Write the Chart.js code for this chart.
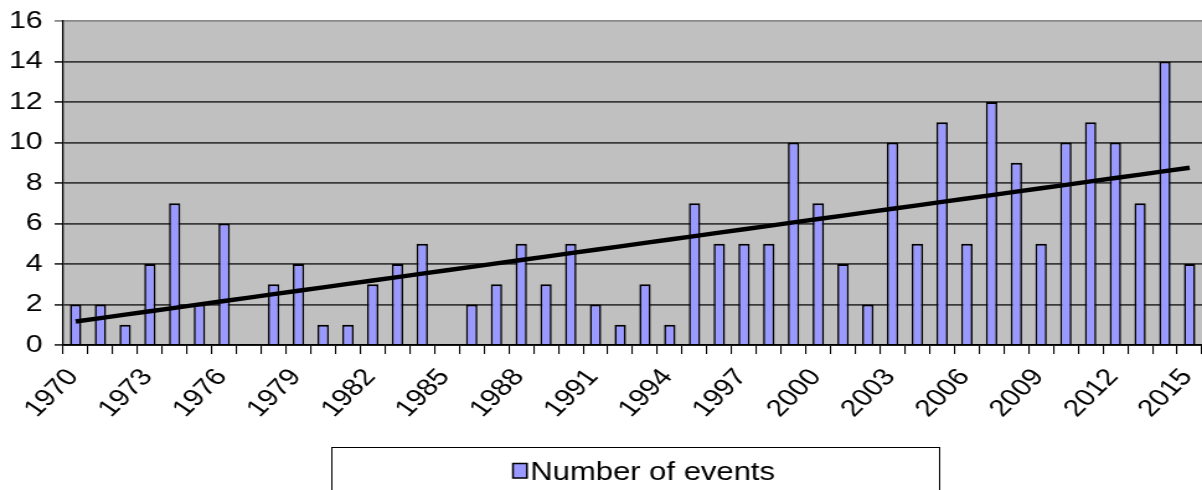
<!DOCTYPE html>
<html>
<head>
<meta charset="utf-8">
<script src="https://cdn.jsdelivr.net/npm/chart.js@4"></script>
<style>
  html, body { margin: 0; padding: 0; background: #ffffff; }
  #chart { display: block; width: 1202px !important; height: 490px !important; }
</style>
</head>
<body>
<canvas id="chart" width="969" height="490" style="width:1202px;height:490px"></canvas>
<script>
// Yearly count of recorded events, 1970-2015
const years = [
  '1970','1971','1972','1973','1974','1975','1976','1977','1978','1979',
  '1980','1981','1982','1983','1984','1985','1986','1987','1988','1989',
  '1990','1991','1992','1993','1994','1995','1996','1997','1998','1999',
  '2000','2001','2002','2003','2004','2005','2006','2007','2008','2009',
  '2010','2011','2012','2013','2014','2015'
];
const events = [
  2, 2, 1, 4, 7, 2, 6, 0, 3, 4,
  1, 1, 3, 4, 5, 0, 2, 3, 5, 3,
  5, 2, 1, 3, 1, 7, 5, 5, 5, 10,
  7, 4, 2, 10, 5, 11, 5, 12, 9, 5,
  10, 11, 10, 7, 14, 4
];
const xTickLabels = ['1970','1973','1976','1979','1982','1985','1988','1991',
  '1994','1997','2000','2003','2006','2009','2012','2015'];
const yTicks = [0, 2, 4, 6, 8, 10, 12, 14, 16];
const seriesName = 'Number of events';

// Linear least-squares trend of the yearly counts
function linearTrend(values) {
  const n = values.length;
  let sx = 0, sy = 0, sxy = 0, sxx = 0;
  values.forEach((v, i) => { sx += i; sy += v; sxy += i * v; sxx += i * i; });
  const slope = (n * sxy - sx * sy) / (n * sxx - sx * sx);
  const icpt = (sy - slope * sx) / n;
  return values.map((_, i) => icpt + slope * i);
}

const FONT = "'Liberation Sans', Arial, sans-serif";
const BAR_FILL = '#9999ff';
const PLOT_BG = '#c0c0c0';

// Grey plot area behind the bars
const plotBackground = {
  id: 'plotBackground',
  beforeDraw(chart) {
    const { ctx, chartArea: a } = chart;
    ctx.save();
    ctx.fillStyle = PLOT_BG;
    ctx.fillRect(a.left, a.top, a.right - a.left, a.bottom - a.top);
    ctx.restore();
  }
};

// Boxed legend under the axis labels
const boxedLegend = {
  id: 'boxedLegend',
  afterDraw(chart) {
    const ctx = chart.ctx;
    const ds = chart.data.datasets[1];
    const boxL = 267.5, boxR = 757.5, boxT = 447.5, boxB = 495;
    ctx.save();
    ctx.fillStyle = '#ffffff';
    ctx.fillRect(boxL, boxT, boxR - boxL, boxB - boxT);
    ctx.strokeStyle = '#000000';
    ctx.lineWidth = 1;
    ctx.strokeRect(boxL, boxT, boxR - boxL, boxB - boxT);

    const keyX = 413.5, keyY = 463.5, keyW = 11.3, keyH = 14.5;
    ctx.fillStyle = ds.backgroundColor;
    ctx.fillRect(keyX, keyY, keyW, keyH);
    ctx.lineWidth = 1.5;
    ctx.strokeStyle = '#000000';
    ctx.strokeRect(keyX, keyY, keyW, keyH);

    ctx.font = '25px ' + FONT;
    ctx.fillStyle = '#000000';
    ctx.textBaseline = 'alphabetic';
    ctx.textAlign = 'left';
    ctx.fillText(ds.label, 427.5, 479.5);
    ctx.restore();
  }
};

new Chart(document.getElementById('chart'), {
  data: {
    labels: years,
    datasets: [
      {
        type: 'line',
        label: 'Linear trend',
        data: linearTrend(events),
        borderColor: '#000000',
        borderWidth: 4.4,
        pointRadius: 0,
        tension: 0,
        order: 0
      },
      {
        type: 'bar',
        label: seriesName,
        data: events,
        backgroundColor: BAR_FILL,
        borderColor: '#000000',
        borderWidth: { top: 2, left: 1.6, right: 1.6, bottom: 0 },
        borderSkipped: 'start',
        barPercentage: 0.46,
        categoryPercentage: 1.0,
        order: 1
      }
    ]
  },
  options: {
    responsive: false,
    devicePixelRatio: 1,
    animation: false,
    layout: { padding: { top: 21, right: 0, bottom: 0, left: 0 } },
    plugins: {
      legend: { display: false },
      tooltip: { enabled: false }
    },
    scales: {
      x: {
        type: 'category',
        offset: true,
        afterFit(scale) {
          scale.height = 145;
          scale.paddingLeft = 0;
          scale.paddingRight = 0;
        },
        grid: {
          offset: true,
          drawOnChartArea: false,
          drawTicks: true,
          tickLength: 9,
          color: '#000000',
          lineWidth: 1.1
        },
        border: { display: true, color: '#000000', width: 1.8 },
        ticks: {
          autoSkip: false,
          minRotation: 50,
          maxRotation: 50,
          padding: 9.5,
          labelOffset: -2,
          color: '#000000',
          font: { family: FONT, size: 24 },
          callback(value) {
            const lab = this.getLabelForValue(value);
            return xTickLabels.includes(lab) ? lab : '';
          }
        }
      },
      y: {
        min: yTicks[0],
        max: yTicks[yTicks.length - 1],
        afterFit(scale) {
          scale.width = 51;
          scale.paddingTop = 0;
          scale.paddingBottom = 0;
        },
        afterBuildTicks(scale) { scale.ticks = yTicks.map(v => ({ value: v })); },
        grid: {
          drawTicks: true,
          tickLength: 7,
          lineWidth: 1.8,
          color(c) { return c.tick && c.tick.value === 16 ? '#8a8a8a' : '#3a3a3a'; }
        },
        border: { display: true, color: '#000000', width: 1.3 },
        ticks: {
          padding: 9.5,
          color: '#000000',
          font: { family: FONT, size: 24.5 }
        }
      }
    }
  },
  plugins: [plotBackground, boxedLegend]
});
</script>
</body>
</html>
